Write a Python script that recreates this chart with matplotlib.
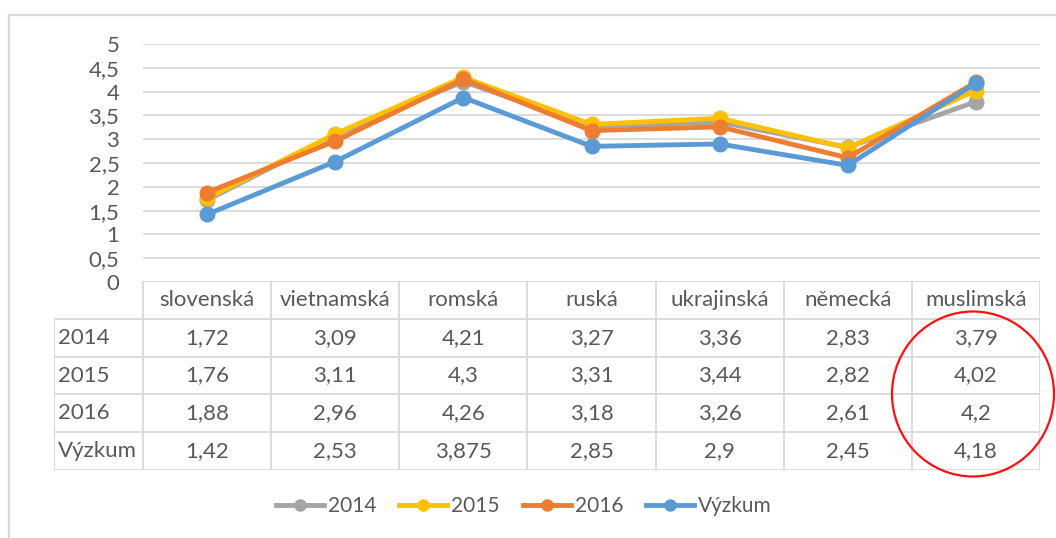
import matplotlib.pyplot as plt
from matplotlib.lines import Line2D
from matplotlib.patches import Ellipse

plt.rcParams['font.family'] = ['Lato', 'DejaVu Sans']

categories = ['slovenská', 'vietnamská', 'romská', 'ruská', 'ukrajinská', 'německá', 'muslimská']
series_names = ['2014', '2015', '2016', 'Výzkum']
v2014 = [1.72, 3.09, 4.21, 3.27, 3.36, 2.83, 3.79]
v2015 = [1.76, 3.11, 4.3, 3.31, 3.44, 2.82, 4.02]
v2016 = [1.88, 2.96, 4.26, 3.18, 3.26, 2.61, 4.2]
vyzkum = [1.42, 2.53, 3.875, 2.85, 2.9, 2.45, 4.18]
table_labels = [['1,72', '3,09', '4,21', '3,27', '3,36', '2,83', '3,79'],
                ['1,76', '3,11', '4,3', '3,31', '3,44', '2,82', '4,02'],
                ['1,88', '2,96', '4,26', '3,18', '3,26', '2,61', '4,2'],
                ['1,42', '2,53', '3,875', '2,85', '2,9', '2,45', '4,18']]
y_ticks = [0, 0.5, 1, 1.5, 2, 2.5, 3, 3.5, 4, 4.5, 5]
y_tick_labels = ['0', '0,5', '1', '1,5', '2', '2,5', '3', '3,5', '4', '4,5', '5']

colors = ['#A5A5A5', '#FFC000', '#ED7D31', '#5B9BD5']
txt = '#595959'
grid = '#D9D9D9'
fs = 16
W, H = 1056, 538

fig = plt.figure(figsize=(W / 100, H / 100), dpi=100)

# line chart
ax = fig.add_axes([143 / W, 1 - 282 / H, 897 / W, 238 / H])
x = list(range(len(categories)))
handles = []
for vals, name, c in zip([v2014, v2015, v2016, vyzkum], series_names, colors):
    ax.plot(x, vals, color=c, lw=3.5, marker='o', ms=10.5, solid_capstyle='round', zorder=3)
    handles.append(Line2D([0], [0], color=c, lw=3.5, marker='o', ms=8, label=name))
ax.set_xlim(-0.5, 6.5)
ax.set_ylim(0, 5)
ax.set_yticks(y_ticks)
ax.set_yticklabels(y_tick_labels, fontsize=fs, color=txt)
ax.set_xticks([])
ax.tick_params(axis='y', length=0, pad=17)
for s in ax.spines.values():
    s.set_visible(False)
ax.grid(axis='y', color=grid, lw=1.3)
ax.set_axisbelow(True)

# data table
rh = 89 / 128
tx = fig.add_axes([54 / W, 1 - 470 / H, (1040 - 54) / W, (470 - 281) / H])
tx.set_xlim(-0.5 - rh, 6.5)
tx.set_ylim(5, 0)
tx.axis('off')
lk = dict(color=grid, lw=1.3)
tx.plot([-0.5, 6.5], [0, 0], **lk)
for r in range(1, 6):
    tx.plot([-0.5 - rh, 6.5], [r, r], **lk)
tx.plot([-0.5 - rh, -0.5 - rh], [1, 5], **lk)
for c in range(8):
    tx.plot([c - 0.5, c - 0.5], [0, 5], **lk)
for i, cat in enumerate(categories):
    tx.text(i, 0.5, cat, ha='center', va='center', fontsize=fs, color=txt)
for r, name in enumerate(series_names):
    tx.text(-0.5 - rh + 0.03, r + 1.5, name, ha='left', va='center', fontsize=fs, color=txt)
    for i, lab in enumerate(table_labels[r]):
        tx.text(i, r + 1.5, lab, ha='center', va='center', fontsize=fs, color=txt)

# legend
fig.legend(handles=handles, loc='center', bbox_to_anchor=(524 / W, 1 - 506 / H), ncol=4,
           frameon=False, fontsize=15, labelcolor=txt, handlelength=2.3,
           handletextpad=0.2, columnspacing=1.1)

# red circle highlight
fig.add_artist(Ellipse((973 / W, 1 - 394 / H), 162 / W, 165 / H, transform=fig.transFigure,
                       fill=False, edgecolor='#FF1010', lw=1.6))

# chart border
fig.add_artist(Line2D([9 / W, 9 / W], [0, 1 - 15 / H], color=grid, lw=1.6))
fig.add_artist(Line2D([9 / W, 1], [1 - 15 / H, 1 - 15 / H], color=grid, lw=1.6))

fig.savefig('out.png', dpi=100)
